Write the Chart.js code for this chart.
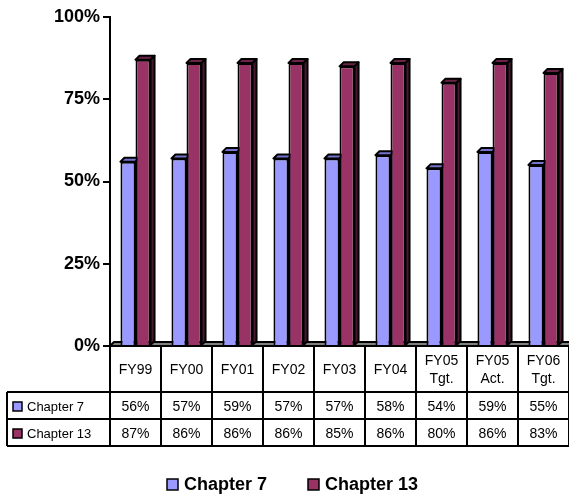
<!DOCTYPE html>
<html>
<head>
<meta charset="utf-8">
<script src="https://cdn.jsdelivr.net/npm/chart.js@4.4.0/dist/chart.umd.min.js"></script>
<style>
  html, body { margin: 0; padding: 0; background: #fff; }
  #grafico { display: block; }
</style>
</head>
<body>
<canvas id="grafico" width="569" height="497"></canvas>
<script>
// dati
const anni = [["FY99"], ["FY00"], ["FY01"], ["FY02"], ["FY03"], ["FY04"], ["FY05", "Tgt."], ["FY05", "Act."], ["FY06", "Tgt."]];
const chapter7 = [56, 57, 59, 57, 57, 58, 54, 59, 55];
const chapter13 = [87, 86, 86, 86, 85, 86, 80, 86, 83];
const nomiSerie = ["Chapter 7", "Chapter 13"];
const tickY = [0, 25, 50, 75, 100];

const colori = ["#9999FF", "#993366"];
const coloriTop = ["#7373CC", "#6B2447"];
const coloriLato = ["#5C5C99", "#4A1931"];
const FONT = "'Liberation Sans', Arial, sans-serif";
const DEPTH = 4;

Chart.defaults.font.family = FONT;
Chart.defaults.color = "#000";

function poligono(ctx, punti, fill) {
  ctx.beginPath();
  ctx.moveTo(punti[0][0], punti[0][1]);
  for (let i = 1; i < punti.length; i++) ctx.lineTo(punti[i][0], punti[i][1]);
  ctx.closePath();
  ctx.fillStyle = fill;
  ctx.fill();
  ctx.stroke();
}

// facce 3D delle barre + pavimento
const effetto3D = {
  id: "effetto3D",
  beforeDatasetsDraw(chart) {
    const ctx = chart.ctx;
    const area = chart.chartArea;
    const base = chart.scales.y.getPixelForValue(0);
    ctx.save();
    ctx.strokeStyle = "#000";
    ctx.lineWidth = 2;
    ctx.lineJoin = "round";
    // pavimento
    poligono(ctx, [[area.left, base], [area.left + DEPTH, base - DEPTH], [area.right + DEPTH, base - DEPTH], [area.right, base]], "#808080");
    chart.data.datasets.forEach((ds, i) => {
      const meta = chart.getDatasetMeta(i);
      meta.data.forEach((bar) => {
        const l = bar.x - bar.width / 2;
        const r = bar.x + bar.width / 2;
        const t = bar.y;
        const b = bar.base;
        poligono(ctx, [[l, t], [l + DEPTH, t - DEPTH], [r + DEPTH, t - DEPTH], [r, t]], coloriTop[i]);
        poligono(ctx, [[r, t], [r + DEPTH, t - DEPTH], [r + DEPTH, b - DEPTH], [r, b]], coloriLato[i]);
      });
    });
    ctx.restore();
  },
};

// tabella dati sotto il grafico + legenda
const tabella = {
  id: "tabella",
  afterDraw(chart) {
    const ctx = chart.ctx;
    const x = chart.scales.x;
    const area = chart.chartArea;
    const top = area.bottom;
    const righe = [top, 392, 419, 446];
    const sinistra = 7;
    const passo = (area.right - area.left) / anni.length;

    ctx.save();
    ctx.strokeStyle = "#000";
    ctx.lineWidth = 2;
    ctx.beginPath();
    // verticali
    for (let i = 0; i <= anni.length; i++) {
      const xx = area.left + i * passo;
      ctx.moveTo(xx, top);
      ctx.lineTo(xx, righe[3]);
    }
    ctx.moveTo(sinistra, righe[1]);
    ctx.lineTo(sinistra, righe[3]);
    // orizzontali
    for (let j = 1; j < righe.length; j++) {
      ctx.moveTo(sinistra, righe[j]);
      ctx.lineTo(area.right, righe[j]);
    }
    ctx.stroke();

    ctx.fillStyle = "#000";
    ctx.textAlign = "center";
    ctx.textBaseline = "middle";
    ctx.font = "14px " + FONT;
    anni.forEach((lab, i) => {
      const cx = x.getPixelForValue(i);
      if (lab.length === 1) {
        ctx.fillText(lab[0], cx, 370);
      } else {
        ctx.fillText(lab[0], cx, 361);
        ctx.fillText(lab[1], cx, 379);
      }
      ctx.fillText(chapter7[i] + "%", cx, 407);
      ctx.fillText(chapter13[i] + "%", cx, 434);
    });

    // etichette righe
    ctx.textAlign = "left";
    ctx.font = "13px " + FONT;
    ctx.lineWidth = 1.5;
    [407, 434].forEach((yy, k) => {
      ctx.fillStyle = colori[k];
      ctx.fillRect(13, yy - 5, 9, 9);
      ctx.strokeRect(13, yy - 5, 9, 9);
      ctx.fillStyle = "#000";
      ctx.fillText(nomiSerie[k], 27, yy);
    });

    // legenda
    ctx.font = "bold 18px " + FONT;
    const posLeg = [167, 308];
    posLeg.forEach((lx, k) => {
      ctx.fillStyle = colori[k];
      ctx.fillRect(lx, 479, 11, 11);
      ctx.strokeRect(lx, 479, 11, 11);
      ctx.fillStyle = "#000";
      ctx.fillText(nomiSerie[k], lx + 17, 485);
    });
    ctx.restore();
  },
};

const ctx = document.getElementById("grafico").getContext("2d");
const grafico = new Chart(ctx, {
  type: "bar",
  data: {
    labels: anni,
    datasets: [
      { label: nomiSerie[0], data: chapter7, backgroundColor: colori[0], borderColor: "#000", borderWidth: 2 },
      { label: nomiSerie[1], data: chapter13, backgroundColor: colori[1], borderColor: "#000", borderWidth: 2 },
    ],
  },
  options: {
    responsive: false,
    animation: false,
    layout: { padding: { top: 17, left: 0, right: 0, bottom: 151 } },
    datasets: { bar: { categoryPercentage: 0.59, barPercentage: 1.0 } },
    plugins: { legend: { display: false }, tooltip: { enabled: false } },
    scales: {
      x: { display: false },
      y: {
        min: 0,
        max: 100,
        afterFit(scale) { scale.width = 110; },
        afterBuildTicks(scale) { scale.ticks = tickY.map((v) => ({ value: v })); },
        ticks: {
          padding: 3,
          font: { size: 18, weight: "bold" },
          callback: (v) => v + "%",
        },
        grid: { drawOnChartArea: false, drawTicks: true, tickLength: 7, color: "#000", lineWidth: 2 },
        border: { display: true, color: "#000", width: 2 },
      },
    },
  },
  plugins: [effetto3D, tabella],
});
</script>
</body>
</html>
